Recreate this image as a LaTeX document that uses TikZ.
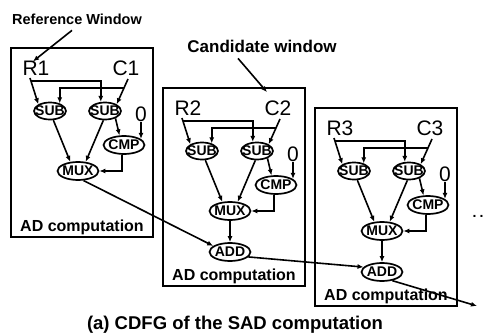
\documentclass[tikz,border=0pt]{standalone}
\usepackage{fontspec}
\setmainfont{Liberation Sans}
\usetikzlibrary{shapes.geometric,arrows.meta,calc}
\tikzset{
  box/.style={draw, line width=1.9pt, minimum width=142pt, inner sep=0pt},
  op/.style={draw, ellipse, line width=1.7pt, inner sep=-8pt, minimum width=41pt, minimum height=18pt,
    font=\fontsize{14}{14}\bfseries\selectfont},
  opsmall/.style={op, minimum width=32pt, minimum height=17pt},
  port/.style={inner sep=0pt, anchor=base, font=\fontsize{21}{21}\selectfont},
  arr/.style={line width=1.6pt, -{Latex[length=6pt,width=5pt]}},
  title/.style={inner sep=0pt, anchor=base, font=\fontsize{#1}{#1}\bfseries\selectfont},
}
\newcommand{\adunit}[6]{%
\begin{scope}[shift={(#2,#3)}]
  \node[box, minimum height=#4pt, anchor=north west] (box#1) at (0,0) {};
  \node[port] (r#1) at (26,29) {R#5};
  \node[port] (c#1) at (116,29) {C#5};
  \node[port] (z#1) at (131,75) {0};
  \node[opsmall] (sa#1) at (40,64) {SUB};
  \node[opsmall] (sb#1) at (95,64) {SUB};
  \node[op] (cmp#1) at (114,98) {CMP};
  \node[op] (mux#1) at (68,124) {MUX};
  \node[title=16] (ad#1) at (72,{#4-5}) {AD computation};
  \coordinate (rs#1) at ([xshift=-6pt,yshift=-2pt]r#1.base);
  \coordinate (cs#1) at ([xshift=2pt,yshift=-3pt]c#1.base);
  \coordinate (rj#1) at ($(rs#1)!0.11!(sa#1.150)$);
  \coordinate (cj#1) at ($(cs#1)!0.345!(sb#1.30)$);
  \draw[arr] (rs#1) -- (sa#1.150);
  \draw[arr] (rj#1) -| (sb#1.115);
  \draw[arr] (cs#1) -- (sb#1.30);
  \draw[arr] (cj#1) -| (sa#1.38);
  \draw[arr] (sb#1.-35) -- (cmp#1.115);
  \draw[arr] (z#1.south) -- (z#1.south |- cmp#1.20);
  \draw[arr] (sa#1.-70) -- (mux#1.130);
  \draw[arr] (sb#1.-100) -- (mux#1.50);
  \draw[arr] ([xshift=-2pt]cmp#1.south) |- (mux#1.east);
  #6
\end{scope}}
\begin{document}
\begin{tikzpicture}[x=1pt,y=-1pt]
\fill[white] (0,0) rectangle (485,334);
\useasboundingbox (0,0) rectangle (485,334);

\node[title=14.5] (refw) at (77,25) {Reference Window};
\node[title=17] (candw) at (262,53) {Candidate window};

\adunit{1}{10}{47}{189}{1}{}
\adunit{2}{162}{87}{198}{2}{\node[op] (add2) at (68,165) {ADD}; \draw[arr] (mux2) -- (add2);}
\adunit{3}{314}{107}{198}{3}{\node[op] (add3) at (68,165) {ADD}; \draw[arr] (mux3) -- (add3);}

\draw[arr] ([xshift=-5pt,yshift=-5pt]refw.south) -- ([xshift=-3pt]r1.north);
\draw[arr] ([xshift=-24pt,yshift=-5pt]candw.south) -- ([xshift=-11pt,yshift=9pt]c2.north);

\draw[arr] (mux1.-60) -- (add2.160);
\draw[arr] (add2.-15) -- (add3.165);
\coordinate (outend) at (477,306);
\draw[arr] (add3.-40) -- (outend);

\node[inner sep=0pt, anchor=base, font=\fontsize{14}{14}\bfseries\selectfont] (dots) at (478,218) {.\hspace{3pt}.};
\node[title=18.5] (cap) at (235,329) {(a) CDFG of the SAD computation};
\end{tikzpicture}
\end{document}
